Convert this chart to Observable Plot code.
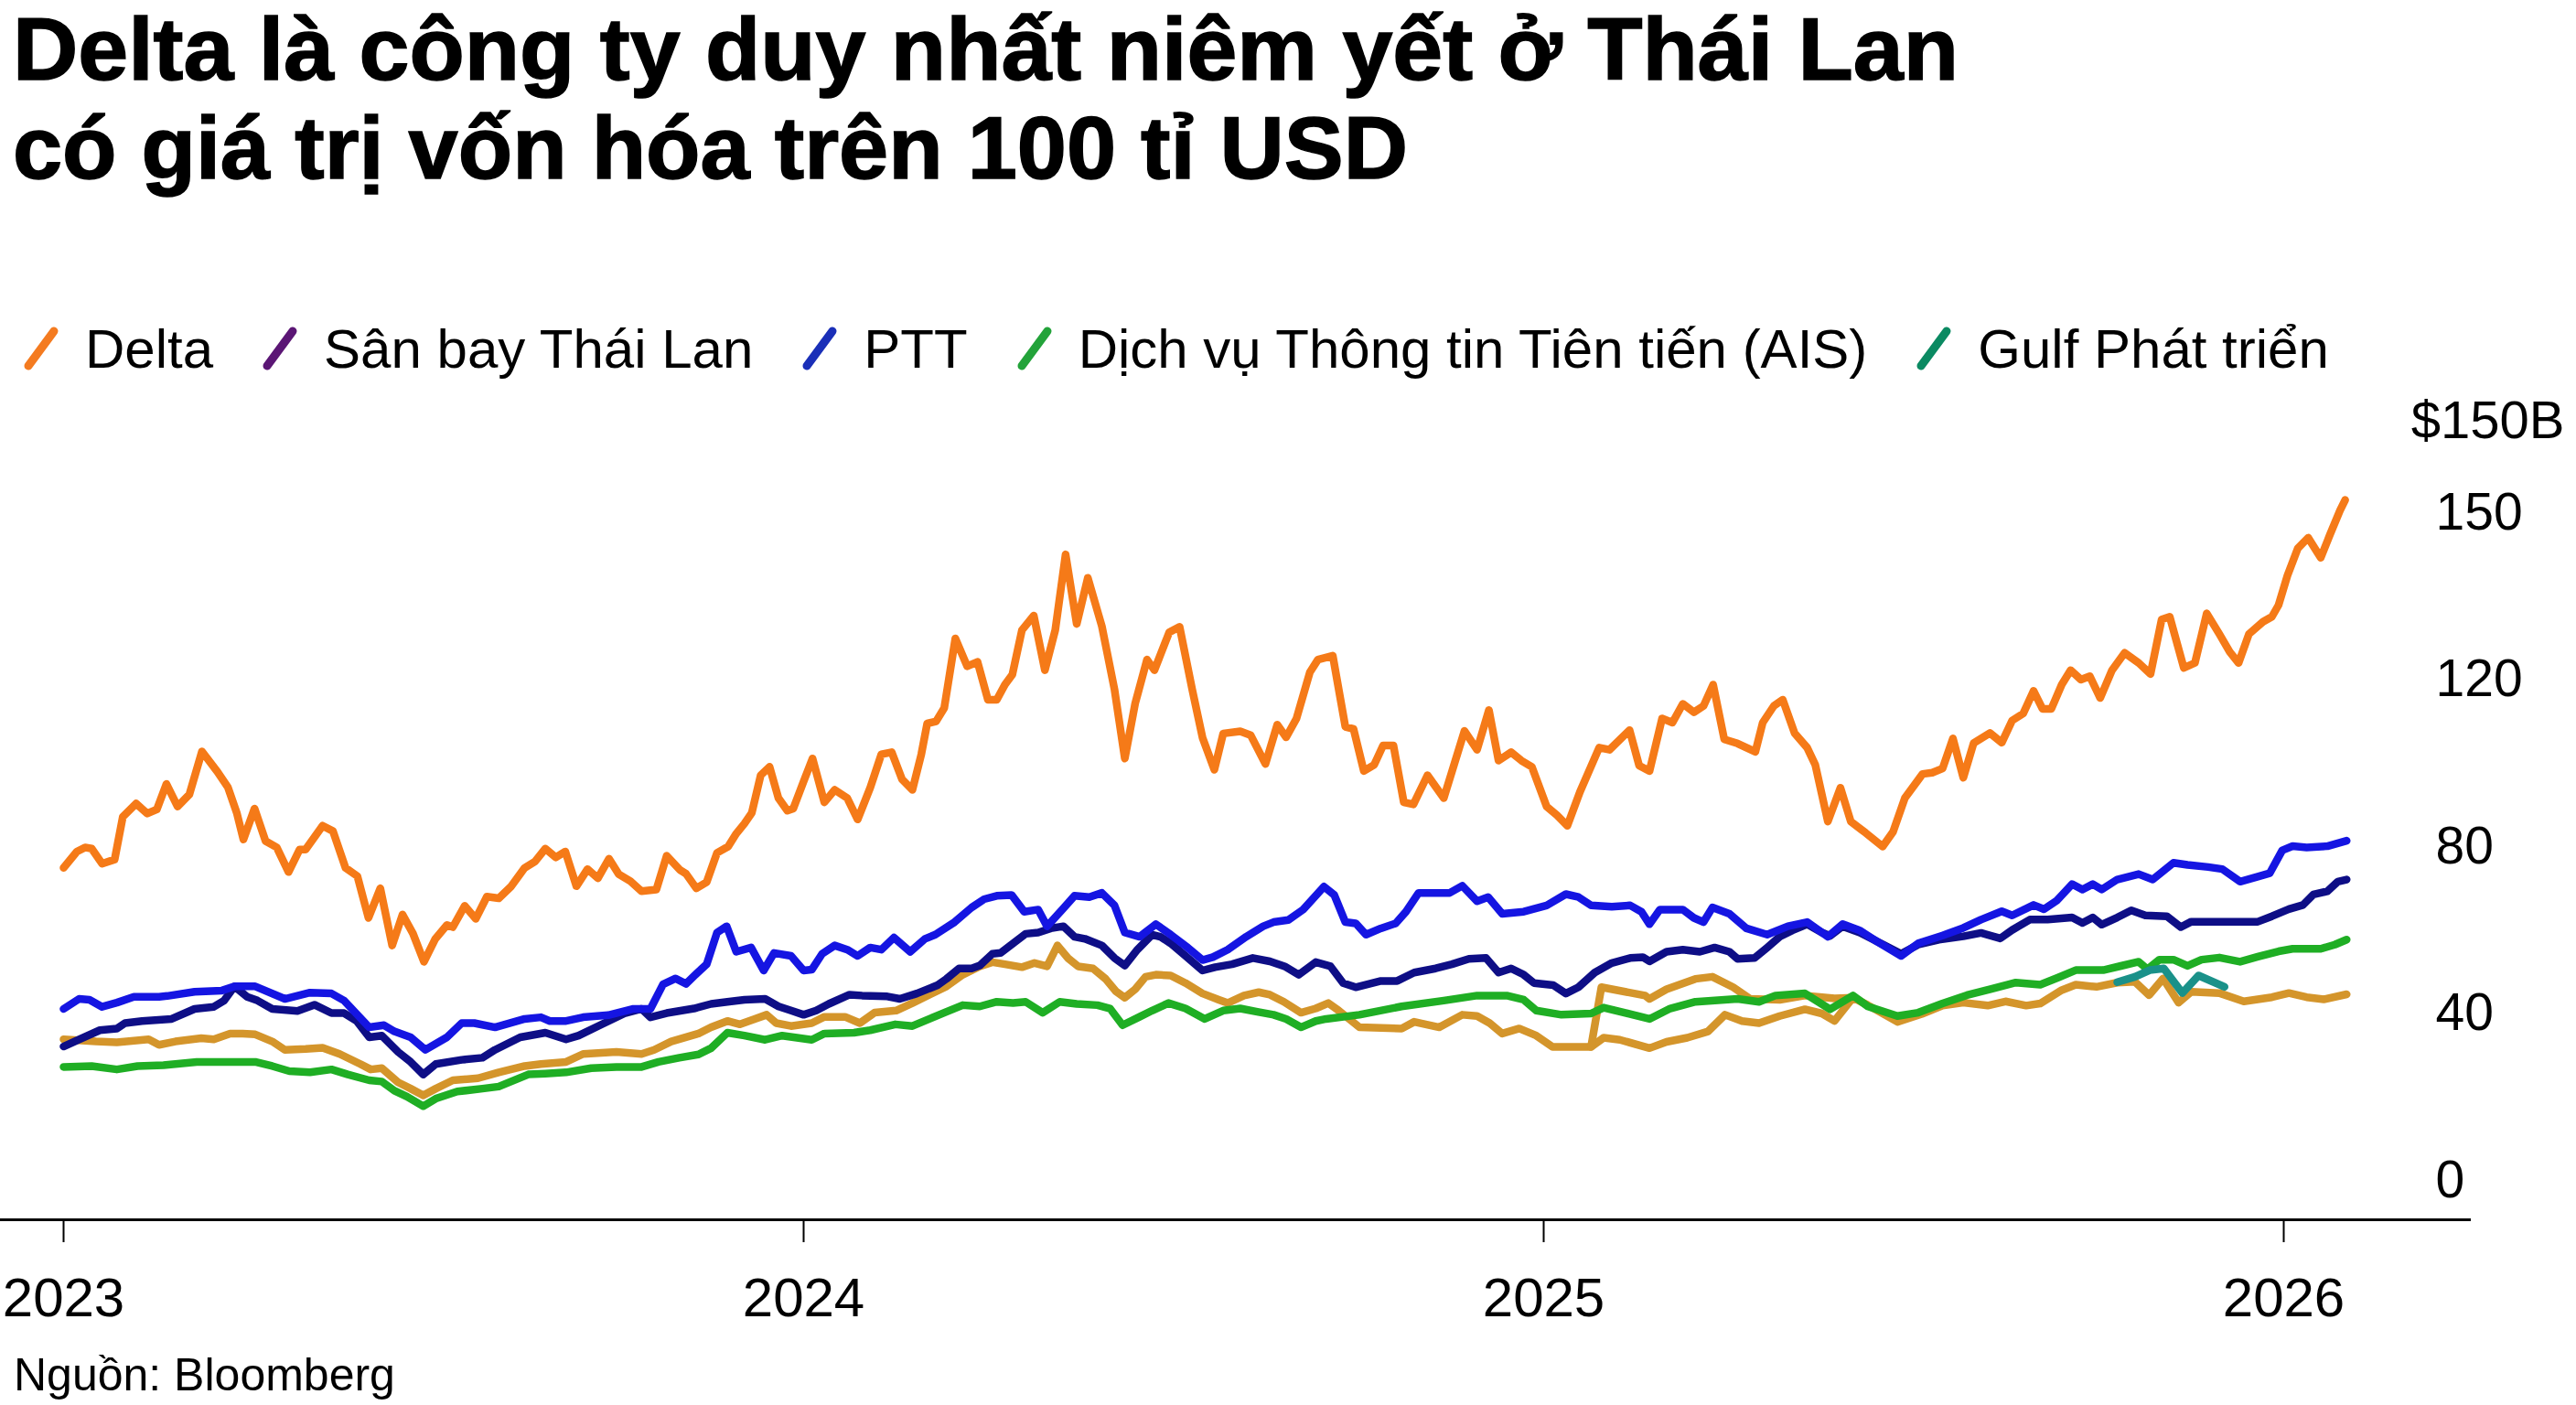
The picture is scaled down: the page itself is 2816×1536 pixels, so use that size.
<!DOCTYPE html>
<html><head><meta charset="utf-8">
<script src="https://cdn.jsdelivr.net/npm/d3@7"></script>
<script src="https://cdn.jsdelivr.net/npm/@observablehq/plot@0.6"></script>
<style>
html,body{margin:0;padding:0;background:#fff;}
body{width:2816px;height:1536px;position:relative;overflow:hidden;font-family:"Liberation Sans",Arial,sans-serif;color:#000;}
#title{position:absolute;left:14px;top:0;font-family:"Liberation Sans",Arial,sans-serif;font-weight:700;font-size:96px;line-height:108px;white-space:nowrap;-webkit-text-stroke:1.5px #000;}
#title span{display:inline-block;transform-origin:0 50%;}
#legend{position:absolute;left:22px;top:346px;height:70px;display:flex;align-items:center;font-size:60px;white-space:nowrap;}
.item{display:flex;align-items:center;margin-right:50px;}
.item svg{margin-right:25px;flex:none;}
#chart{position:absolute;left:0;top:420px;}
#source{position:absolute;left:15px;top:1478px;font-size:50px;line-height:50px;white-space:nowrap;}
</style></head><body>
<div id="title"></div>
<div id="legend"></div>
<div id="chart"></div>
<div id="source"></div>
<script>
// ---------- text ----------
const titleLines = ["Delta là công ty duy nhất niêm yết ở Thái Lan", "có giá trị vốn hóa trên 100 tỉ USD"];
const sourceText = "Nguồn: Bloomberg";
const unitLabel = "$150B";

// ---------- ticks ----------
const xTicks = [2023, 2024, 2025, 2026];
const yTicks = [0, 40, 80, 120, 150];

// ---------- legend ----------
const legendNames = ["Delta", "Sân bay Thái Lan", "PTT", "Dịch vụ Thông tin Tiên tiến (AIS)", "Gulf Phát triển"];
const legendColors = ["#f47b20", "#5b1675", "#1a2fb8", "#23a33a", "#0b8a62"];

// ---------- series: [year, value in $B] ----------
const delta = [[2023.000,74.9],[2023.018,78.8],[2023.029,79.8],[2023.038,79.5],[2023.052,75.9],[2023.069,76.9],[2023.080,87.1],[2023.098,90.3],[2023.113,87.9],[2023.126,88.9],[2023.139,95.0],[2023.154,89.6],[2023.170,92.5],[2023.187,102.8],[2023.208,97.9],[2023.222,94.2],[2023.234,88.1],[2023.243,81.7],[2023.258,89.1],[2023.273,81.3],[2023.288,79.8],[2023.304,73.9],[2023.319,79.3],[2023.327,79.3],[2023.350,85.0],[2023.364,83.7],[2023.381,74.9],[2023.397,72.9],[2023.412,62.9],[2023.428,70.0],[2023.444,56.3],[2023.458,63.7],[2023.472,59.2],[2023.487,52.4],[2023.502,57.8],[2023.518,61.2],[2023.526,60.7],[2023.542,65.8],[2023.557,62.7],[2023.572,68.0],[2023.588,67.6],[2023.605,70.5],[2023.623,74.9],[2023.637,76.4],[2023.651,79.5],[2023.665,77.4],[2023.678,78.8],[2023.693,70.5],[2023.708,74.6],[2023.722,72.4],[2023.737,77.1],[2023.750,73.4],[2023.766,71.7],[2023.781,69.3],[2023.801,69.7],[2023.815,77.8],[2023.833,74.4],[2023.841,73.5],[2023.855,70.0],[2023.869,71.5],[2023.883,78.5],[2023.898,80.0],[2023.909,83.1],[2023.920,85.5],[2023.930,88.1],[2023.942,97.1],[2023.954,99.1],[2023.966,91.6],[2023.978,88.6],[2023.986,89.1],[2024.000,95.6],[2024.012,101.1],[2024.028,90.6],[2024.042,93.6],[2024.059,91.6],[2024.073,86.5],[2024.090,94.1],[2024.105,102.1],[2024.119,102.6],[2024.133,96.1],[2024.147,93.6],[2024.159,102.1],[2024.167,109.5],[2024.179,110.0],[2024.190,113.2],[2024.205,127.4],[2024.221,122.4],[2024.235,123.2],[2024.249,115.2],[2024.261,115.2],[2024.272,118.8],[2024.282,120.9],[2024.295,128.9],[2024.311,131.5],[2024.326,121.7],[2024.340,128.9],[2024.354,142.5],[2024.369,130.0],[2024.384,138.3],[2024.403,129.6],[2024.420,117.7],[2024.434,101.1],[2024.448,114.3],[2024.464,123.6],[2024.474,121.7],[2024.494,128.5],[2024.508,129.5],[2024.525,117.7],[2024.539,106.1],[2024.555,98.4],[2024.567,107.1],[2024.590,107.6],[2024.604,106.7],[2024.624,99.8],[2024.640,109.2],[2024.652,106.2],[2024.666,110.7],[2024.684,121.3],[2024.695,123.6],[2024.715,124.3],[2024.732,108.7],[2024.743,108.2],[2024.757,98.1],[2024.771,99.6],[2024.783,104.2],[2024.797,104.2],[2024.811,90.6],[2024.824,90.1],[2024.843,97.1],[2024.865,91.6],[2024.893,107.7],[2024.910,103.2],[2024.926,112.7],[2024.939,100.6],[2024.956,102.6],[2024.970,100.6],[2024.984,99.1],[2025.004,89.6],[2025.018,87.5],[2025.032,85.0],[2025.049,93.1],[2025.075,103.7],[2025.089,103.2],[2025.116,107.9],[2025.129,99.4],[2025.143,98.1],[2025.160,110.7],[2025.174,109.7],[2025.188,114.2],[2025.203,112.2],[2025.216,113.7],[2025.229,118.8],[2025.244,105.7],[2025.262,104.7],[2025.286,102.7],[2025.296,109.7],[2025.311,113.7],[2025.323,115.2],[2025.339,107.2],[2025.356,103.7],[2025.367,99.6],[2025.384,86.0],[2025.401,94.1],[2025.415,86.0],[2025.435,83.3],[2025.458,80.0],[2025.472,83.5],[2025.488,91.6],[2025.512,97.4],[2025.525,97.7],[2025.539,98.7],[2025.553,105.9],[2025.567,96.5],[2025.581,104.8],[2025.603,107.2],[2025.619,104.9],[2025.633,110.2],[2025.648,111.9],[2025.662,117.3],[2025.674,113.0],[2025.686,113.0],[2025.700,118.8],[2025.712,121.7],[2025.726,120.0],[2025.738,120.6],[2025.752,115.6],[2025.768,121.7],[2025.785,124.8],[2025.804,123.0],[2025.820,121.0],[2025.835,130.8],[2025.846,131.3],[2025.865,122.1],[2025.880,123.0],[2025.896,131.9],[2025.913,128.2],[2025.927,125.0],[2025.939,123.0],[2025.953,128.2],[2025.972,130.4],[2025.984,131.3],[2025.993,133.4],[2026.005,138.7],[2026.019,143.6],[2026.033,145.5],[2026.050,141.9],[2026.062,145.9],[2026.076,150.4],[2026.083,152.3]];

const ptt = [[2023.000,41.1],[2023.021,43.5],[2023.035,43.3],[2023.052,41.6],[2023.072,42.6],[2023.095,44.0],[2023.129,44.0],[2023.140,44.2],[2023.177,45.2],[2023.214,45.5],[2023.231,46.5],[2023.259,46.5],[2023.299,43.5],[2023.333,45.0],[2023.362,44.8],[2023.379,43.1],[2023.413,36.7],[2023.433,37.2],[2023.447,35.7],[2023.469,34.3],[2023.489,31.3],[2023.518,34.3],[2023.538,37.7],[2023.555,37.7],[2023.583,36.7],[2023.623,38.7],[2023.645,39.1],[2023.657,38.2],[2023.679,38.2],[2023.702,39.1],[2023.736,39.6],[2023.770,41.1],[2023.793,41.1],[2023.810,47.0],[2023.827,48.4],[2023.841,47.1],[2023.855,49.5],[2023.869,51.8],[2023.883,59.4],[2023.896,60.9],[2023.909,54.8],[2023.929,55.8],[2023.946,50.3],[2023.960,54.5],[2023.983,53.8],[2024.000,50.3],[2024.011,50.5],[2024.025,54.3],[2024.042,56.3],[2024.059,55.3],[2024.073,53.8],[2024.090,55.8],[2024.105,55.3],[2024.122,58.2],[2024.144,54.8],[2024.164,57.9],[2024.178,58.9],[2024.204,61.9],[2024.227,65.4],[2024.244,67.4],[2024.261,68.2],[2024.281,68.4],[2024.298,64.4],[2024.317,64.9],[2024.329,60.9],[2024.352,65.4],[2024.366,68.2],[2024.386,67.9],[2024.403,68.9],[2024.420,65.9],[2024.434,59.4],[2024.454,58.4],[2024.476,61.4],[2024.496,58.9],[2024.519,55.8],[2024.539,52.8],[2024.553,53.5],[2024.573,55.3],[2024.598,58.4],[2024.621,60.9],[2024.635,61.9],[2024.655,62.4],[2024.675,64.9],[2024.703,70.4],[2024.717,68.4],[2024.732,61.9],[2024.746,61.6],[2024.760,58.9],[2024.780,60.4],[2024.800,61.6],[2024.814,64.4],[2024.831,68.9],[2024.854,68.9],[2024.873,68.9],[2024.890,70.6],[2024.910,66.9],[2024.925,67.9],[2024.944,63.9],[2024.973,64.4],[2025.004,65.9],[2025.030,68.6],[2025.047,67.9],[2025.064,65.9],[2025.092,65.6],[2025.117,65.9],[2025.132,64.4],[2025.143,61.4],[2025.157,64.9],[2025.188,64.9],[2025.203,62.9],[2025.216,61.9],[2025.228,65.4],[2025.251,63.9],[2025.274,60.4],[2025.302,58.9],[2025.330,60.9],[2025.356,61.9],[2025.384,58.4],[2025.404,61.4],[2025.427,59.9],[2025.450,57.3],[2025.483,53.8],[2025.506,56.8],[2025.539,58.7],[2025.567,60.5],[2025.591,62.5],[2025.619,64.5],[2025.633,63.5],[2025.662,66.0],[2025.676,65.0],[2025.693,67.0],[2025.714,71.0],[2025.728,69.7],[2025.742,71.0],[2025.754,69.7],[2025.775,72.1],[2025.804,73.4],[2025.823,72.1],[2025.851,76.1],[2025.870,75.6],[2025.898,75.1],[2025.917,74.6],[2025.941,71.6],[2025.965,72.8],[2025.981,73.6],[2025.998,79.1],[2026.012,80.1],[2026.031,79.8],[2026.059,80.1],[2026.085,81.4]];

const sanBay = [[2023.000,32.1],[2023.021,33.8],[2023.049,36.0],[2023.072,36.4],[2023.083,37.7],[2023.106,38.2],[2023.146,38.7],[2023.177,41.1],[2023.203,41.6],[2023.217,43.1],[2023.231,46.5],[2023.248,44.0],[2023.262,43.1],[2023.282,41.1],[2023.316,40.6],[2023.339,42.1],[2023.362,40.1],[2023.379,40.1],[2023.396,38.2],[2023.413,34.3],[2023.430,34.7],[2023.452,30.8],[2023.469,28.4],[2023.486,25.4],[2023.503,27.9],[2023.538,28.9],[2023.566,29.4],[2023.583,31.3],[2023.617,34.3],[2023.651,35.4],[2023.679,33.8],[2023.696,34.7],[2023.725,37.2],[2023.759,40.1],[2023.781,41.1],[2023.793,39.1],[2023.815,40.1],[2023.852,41.2],[2023.875,42.3],[2023.897,42.8],[2023.920,43.3],[2023.948,43.5],[2023.966,41.7],[2023.983,40.7],[2024.000,39.7],[2024.017,40.7],[2024.034,42.3],[2024.062,44.5],[2024.079,44.3],[2024.113,44.1],[2024.130,43.5],[2024.153,44.8],[2024.181,46.8],[2024.193,48.3],[2024.210,50.8],[2024.227,50.8],[2024.238,51.5],[2024.255,54.3],[2024.266,54.5],[2024.283,56.8],[2024.300,59.1],[2024.317,59.4],[2024.334,60.4],[2024.351,60.9],[2024.366,58.4],[2024.380,57.9],[2024.403,56.3],[2024.420,53.3],[2024.434,51.5],[2024.451,55.3],[2024.471,58.9],[2024.482,58.4],[2024.496,56.8],[2024.516,53.8],[2024.539,50.3],[2024.556,51.1],[2024.579,51.8],[2024.607,53.3],[2024.630,52.5],[2024.650,51.3],[2024.669,49.3],[2024.692,52.3],[2024.712,51.3],[2024.729,47.3],[2024.746,46.3],[2024.780,47.8],[2024.802,47.8],[2024.825,49.8],[2024.854,50.8],[2024.876,51.8],[2024.899,53.1],[2024.922,53.3],[2024.939,49.8],[2024.956,50.8],[2024.973,49.3],[2024.987,47.3],[2025.013,46.8],[2025.030,44.8],[2025.047,46.3],[2025.069,49.8],[2025.092,52.1],[2025.117,53.3],[2025.134,53.5],[2025.143,52.5],[2025.166,54.8],[2025.188,55.3],[2025.211,54.8],[2025.231,55.8],[2025.251,54.8],[2025.262,53.1],[2025.285,53.3],[2025.302,55.8],[2025.319,58.4],[2025.336,59.9],[2025.356,61.4],[2025.376,59.4],[2025.387,58.6],[2025.404,60.9],[2025.427,59.4],[2025.450,57.3],[2025.483,54.3],[2025.506,56.5],[2025.534,57.7],[2025.567,58.5],[2025.591,59.3],[2025.617,58.0],[2025.633,60.0],[2025.657,62.5],[2025.681,62.5],[2025.714,63.0],[2025.728,61.7],[2025.742,63.0],[2025.754,61.3],[2025.775,63.0],[2025.794,64.7],[2025.813,63.5],[2025.842,63.3],[2025.861,60.7],[2025.875,62.0],[2025.913,62.0],[2025.965,62.0],[2025.984,63.3],[2026.007,65.0],[2026.026,66.0],[2026.040,68.5],[2026.059,69.3],[2026.073,71.6],[2026.085,72.1]];

const ais = [[2023.000,27.2],[2023.038,27.4],[2023.072,26.6],[2023.100,27.4],[2023.135,27.6],[2023.180,28.4],[2023.220,28.4],[2023.259,28.4],[2023.282,27.4],[2023.305,26.2],[2023.333,25.9],[2023.362,26.6],[2023.384,25.4],[2023.413,24.0],[2023.430,23.7],[2023.447,21.5],[2023.464,20.1],[2023.486,17.8],[2023.503,19.6],[2023.532,21.3],[2023.566,22.0],[2023.588,22.5],[2023.628,25.4],[2023.651,25.6],[2023.679,25.9],[2023.713,26.9],[2023.747,27.2],[2023.781,27.2],[2023.804,28.4],[2023.832,29.4],[2023.858,30.2],[2023.875,31.7],[2023.897,35.4],[2023.920,34.7],[2023.948,33.7],[2023.971,34.7],[2024.011,33.7],[2024.028,35.2],[2024.068,35.4],[2024.090,36.0],[2024.124,37.4],[2024.147,37.0],[2024.170,38.7],[2024.193,40.4],[2024.215,42.0],[2024.238,41.7],[2024.261,42.8],[2024.283,42.5],[2024.300,42.8],[2024.323,40.2],[2024.346,42.8],[2024.369,42.3],[2024.397,42.0],[2024.414,41.2],[2024.431,37.2],[2024.454,39.2],[2024.471,40.7],[2024.493,42.5],[2024.516,41.2],[2024.542,38.7],[2024.567,40.7],[2024.590,41.2],[2024.613,40.4],[2024.635,39.7],[2024.652,38.7],[2024.672,36.7],[2024.692,38.2],[2024.706,38.7],[2024.751,39.7],[2024.808,41.7],[2024.865,43.1],[2024.910,44.3],[2024.950,44.3],[2024.973,43.3],[2024.990,40.7],[2025.024,39.7],[2025.064,40.0],[2025.081,41.4],[2025.143,38.7],[2025.171,41.2],[2025.205,42.8],[2025.262,43.5],[2025.291,42.8],[2025.313,44.3],[2025.353,44.8],[2025.387,41.0],[2025.418,44.3],[2025.438,41.7],[2025.478,39.4],[2025.506,40.2],[2025.539,42.4],[2025.572,44.4],[2025.605,45.9],[2025.638,47.4],[2025.671,46.9],[2025.695,48.6],[2025.719,50.4],[2025.756,50.4],[2025.780,51.4],[2025.804,52.4],[2025.816,50.6],[2025.832,52.9],[2025.851,52.9],[2025.870,51.4],[2025.889,52.9],[2025.913,53.4],[2025.941,52.4],[2025.965,53.6],[2025.993,54.9],[2026.012,55.5],[2026.050,55.5],[2026.069,56.5],[2026.085,57.7]];

const gulf = [[2025.775,47.5],[2025.799,48.8],[2025.819,50.4],[2025.838,50.8],[2025.863,44.9],[2025.885,49.1],[2025.920,46.4]];

// gold line (not named in the legend) and its short upper branch in 2025
const goldMain = [[2023.000,33.8],[2023.044,33.3],[2023.072,33.1],[2023.115,33.8],[2023.129,32.5],[2023.151,33.3],[2023.186,34.1],[2023.203,33.8],[2023.225,35.2],[2023.242,35.2],[2023.259,35.0],[2023.282,33.3],[2023.299,31.3],[2023.327,31.5],[2023.350,31.8],[2023.373,30.3],[2023.401,27.9],[2023.415,26.6],[2023.430,26.9],[2023.452,23.5],[2023.469,22.0],[2023.486,20.4],[2023.503,22.0],[2023.526,24.0],[2023.560,24.5],[2023.588,25.9],[2023.623,27.4],[2023.645,27.9],[2023.679,28.4],[2023.702,30.3],[2023.747,30.8],[2023.781,30.3],[2023.798,31.3],[2023.821,33.3],[2023.858,35.2],[2023.875,36.7],[2023.897,38.2],[2023.914,37.4],[2023.934,38.7],[2023.950,39.7],[2023.963,37.7],[2023.983,37.0],[2024.011,37.7],[2024.028,39.2],[2024.056,39.2],[2024.076,37.7],[2024.096,40.2],[2024.125,40.7],[2024.147,42.5],[2024.170,44.5],[2024.193,46.5],[2024.215,49.3],[2024.238,51.3],[2024.255,52.3],[2024.272,51.8],[2024.295,51.1],[2024.312,52.1],[2024.329,51.3],[2024.343,56.3],[2024.357,53.3],[2024.371,51.3],[2024.391,50.8],[2024.408,48.3],[2024.422,45.3],[2024.434,43.8],[2024.448,45.8],[2024.462,48.8],[2024.476,49.3],[2024.496,49.1],[2024.516,47.3],[2024.539,44.8],[2024.561,43.3],[2024.573,42.5],[2024.595,44.3],[2024.615,45.1],[2024.630,44.5],[2024.649,42.8],[2024.672,40.2],[2024.692,41.2],[2024.709,42.5],[2024.723,40.7],[2024.751,36.7],[2024.808,36.4],[2024.825,38.0],[2024.859,36.7],[2024.890,39.7],[2024.910,39.4],[2024.927,37.7],[2024.944,35.2],[2024.967,36.4],[2024.990,34.7],[2025.012,32.0],[2025.064,32.0],[2025.081,34.2],[2025.103,33.7],[2025.143,31.7],[2025.166,33.2],[2025.194,34.2],[2025.222,35.7],[2025.245,39.7],[2025.268,38.2],[2025.291,37.7],[2025.319,39.4],[2025.353,41.0],[2025.376,40.0],[2025.393,38.2],[2025.418,43.8],[2025.438,42.0],[2025.478,38.0],[2025.511,39.9],[2025.539,41.9],[2025.567,42.6],[2025.600,41.9],[2025.624,42.9],[2025.652,41.9],[2025.671,42.4],[2025.700,45.6],[2025.719,46.9],[2025.747,46.4],[2025.775,47.4],[2025.799,47.6],[2025.818,44.4],[2025.837,48.4],[2025.858,42.6],[2025.875,45.2],[2025.913,44.9],[2025.946,42.9],[2025.984,43.9],[2026.007,44.9],[2026.031,43.9],[2026.054,43.4],[2026.085,44.6]];
const goldBranch = [[2025.064,32.0],[2025.078,46.3],[2025.137,44.3],[2025.143,43.5],[2025.166,45.8],[2025.205,48.3],[2025.228,48.8],[2025.256,46.3],[2025.279,43.5],[2025.319,43.3],[2025.353,44.3],[2025.393,43.6],[2025.418,43.8]];

// line colours as drawn in the chart (drawing order: back to front)
const seriesList = [
  {name: "goldMain", points: goldMain, color: "#d4952b"},
  {name: "goldBranch", points: goldBranch, color: "#d4952b"},
  {name: "AIS", points: ais, color: "#1fae24"},
  {name: "Sân bay Thái Lan", points: sanBay, color: "#0e0e86"},
  {name: "PTT", points: ptt, color: "#1515e2"},
  {name: "Gulf", points: gulf, color: "#1a9189"},
  {name: "Delta", points: delta, color: "#f57a18"}
];

// ---------- HTML text ----------
const titleEl = document.getElementById("title");
titleLines.forEach((t, i) => {
  const s = document.createElement("span");
  s.textContent = t;
  titleEl.appendChild(s);
  if (i < titleLines.length - 1) titleEl.appendChild(document.createElement("br"));
});
document.getElementById("source").textContent = sourceText;

const legendEl = document.getElementById("legend");
legendNames.forEach((n, i) => {
  const item = document.createElement("div");
  item.className = "item";
  item.innerHTML = `<svg width="46" height="52" viewBox="0 0 46 52"><line x1="9" y1="45" x2="37" y2="7" stroke="${legendColors[i]}" stroke-width="9" stroke-linecap="round"/></svg><span>${n}</span>`;
  legendEl.appendChild(item);
});

// ---------- chart ----------
const lineMarks = seriesList.map(s => Plot.line(s.points, {
  x: d => d[0], y: d => d[1], stroke: s.color, strokeWidth: 8.5,
  strokeLinejoin: "round", strokeLinecap: "round"
}));

const chart = Plot.plot({
  width: 2816, height: 1040,
  marginLeft: 0, marginRight: 117, marginTop: 0, marginBottom: 127,
  x: {type: "linear", domain: [2023, 2026], range: [69, 2496]},
  y: {type: "linear", domain: yTicks, range: [870, 687.5, 505, 322.5, 140]},
  style: {fontFamily: "'Liberation Sans', Arial, sans-serif", color: "#000", background: "transparent", overflow: "visible"},
  marks: [
    ...lineMarks,
    Plot.frame({anchor: "bottom", stroke: "#000", strokeWidth: 3}),
    Plot.axisX({ticks: xTicks, tickFormat: d => String(d), tickSize: 25, tickPadding: 38, fontSize: 60, strokeWidth: 2, label: null}),
    Plot.axisY({anchor: "right", ticks: yTicks, tickFormat: d => String(d), tickSize: 0, tickPadding: 0, dx: -37, textAnchor: "start", fontSize: 57, label: null}),
    Plot.text([unitLabel], {text: d => d, frameAnchor: "top-right", textAnchor: "end", lineAnchor: "middle", dx: 104, dy: 40, fontSize: 58})
  ]
});
document.getElementById("chart").appendChild(chart);

// fit each condensed title line to the reference widths
const titleWidths = [2127, 1525];
titleEl.querySelectorAll("span").forEach((s, i) => {
  const w = s.getBoundingClientRect().width;
  s.style.transform = `scaleX(${titleWidths[i] / w})`;
});
</script>
</body></html>
